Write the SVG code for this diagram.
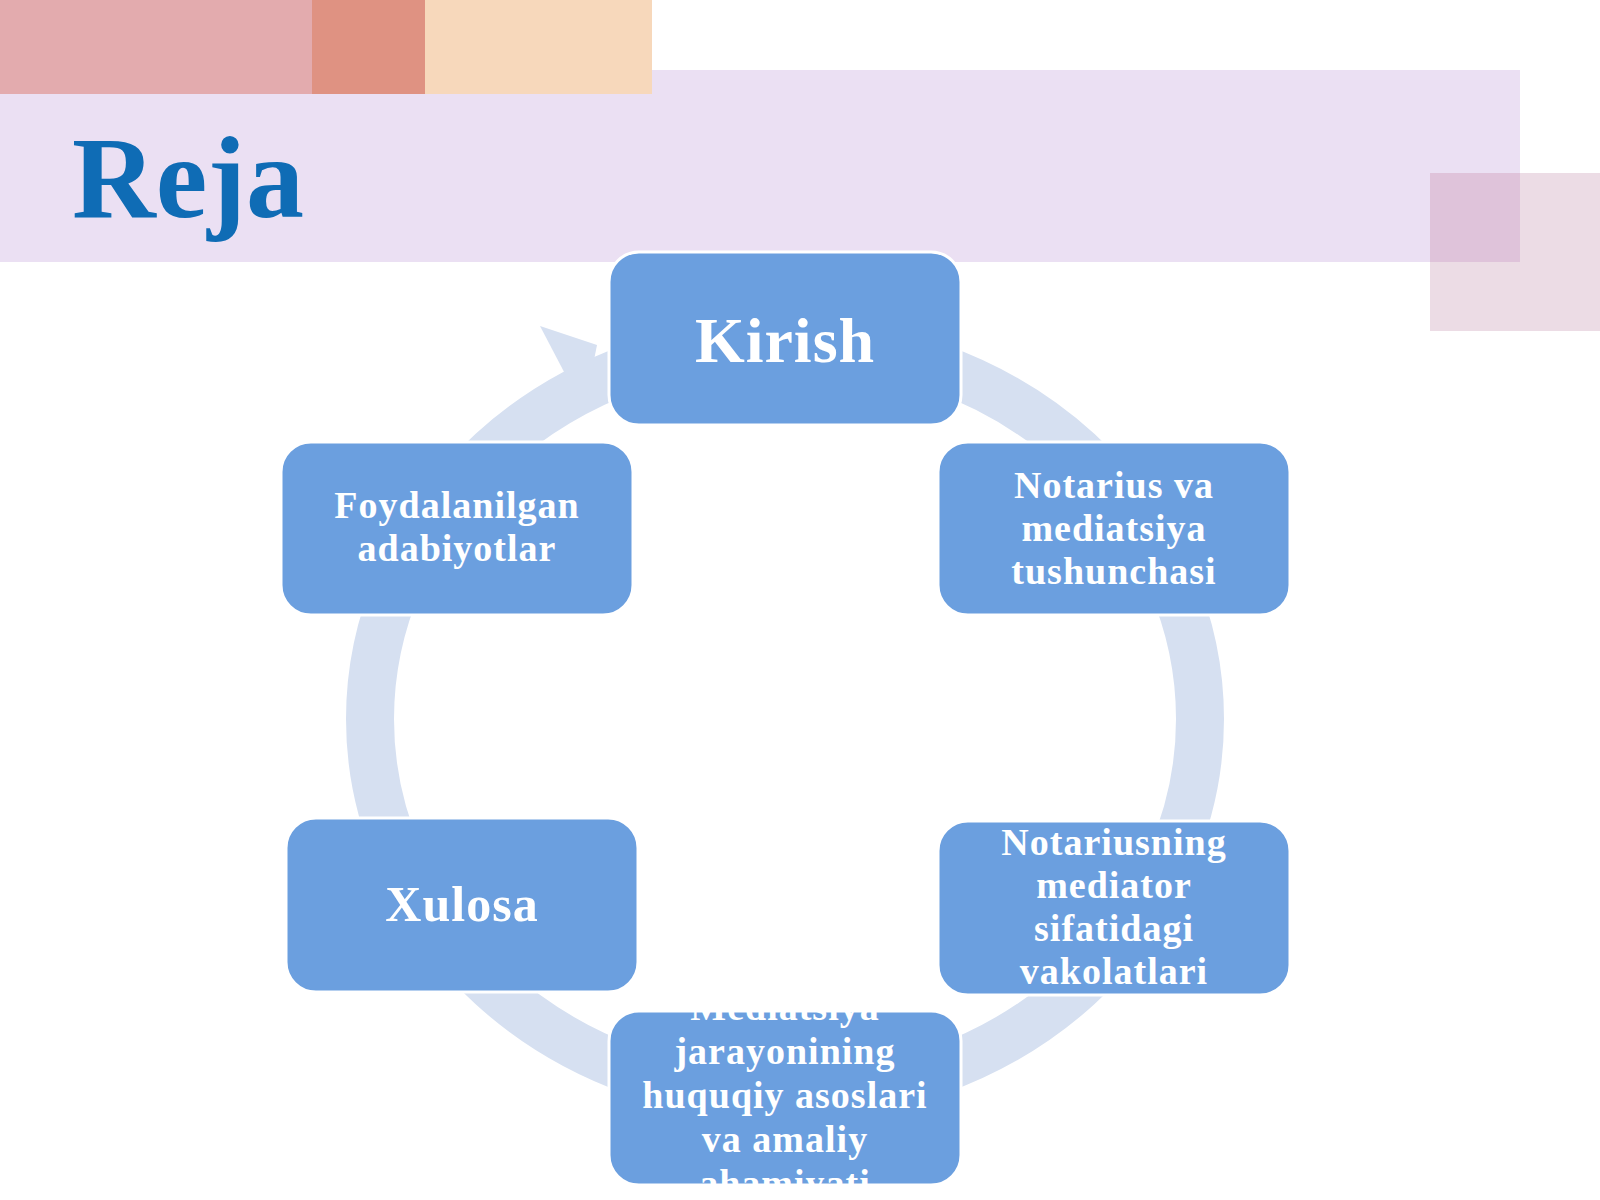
<svg xmlns="http://www.w3.org/2000/svg" width="1600" height="1200" viewBox="0 0 1600 1200">
<defs>
<style>
.box{fill:#6b9fdf;stroke:#fff;stroke-width:3}
.t{font-family:"Liberation Serif",serif;font-weight:bold;fill:#fff;text-anchor:middle;letter-spacing:1px}
.s{font-size:38px}
</style>
<clipPath id="cb"><rect x="609" y="1011" width="352" height="174" rx="30"/></clipPath>
</defs>
<rect width="1600" height="1200" fill="#fff"/>
<rect x="0" y="70" width="1520" height="192" fill="#ebe0f3"/>
<rect x="1430" y="173" width="170" height="158" fill="#ead8e2" opacity="0.9"/>
<rect x="1430" y="173" width="90" height="89" fill="#dfc3da"/>
<rect x="0" y="0" width="312" height="94" fill="#e3abae"/>
<rect x="312" y="0" width="113" height="94" fill="#df9282"/>
<rect x="425" y="0" width="227" height="94" fill="#f7d8bb"/>
<text x="72" y="217" font-family="Liberation Serif,serif" font-weight="bold" font-size="116" fill="#0f6cb5">Reja</text>
<g id="connectors">
<ellipse cx="785" cy="719" rx="415" ry="378" fill="none" stroke="#d6e0f1" stroke-width="48"/>
<polygon points="597,345 540,326 584,410" fill="#d6e0f1"/>
</g>
<g id="n1"><rect class="box" x="609" y="252" width="352" height="173" rx="30"/><text class="t" x="785" y="362" font-size="64">Kirish</text></g>
<g id="n2"><rect class="box" x="938" y="442" width="352" height="173" rx="30"/><text class="t s" x="1114" y="498">Notarius va</text><text class="t s" x="1114" y="541">mediatsiya</text><text class="t s" x="1114" y="584">tushunchasi</text></g>
<g id="n3"><rect class="box" x="938" y="821" width="352" height="174" rx="30"/><text class="t s" x="1114" y="855">Notariusning</text><text class="t s" x="1114" y="898">mediator</text><text class="t s" x="1114" y="941">sifatidagi</text><text class="t s" x="1114" y="984">vakolatlari</text></g>
<g id="n4"><rect class="box" x="609" y="1011" width="352" height="174" rx="30"/><g clip-path="url(#cb)"><text class="t s" x="785" y="1020">Mediatsiya</text><text class="t s" x="785" y="1064">jarayonining</text><text class="t s" x="785" y="1108">huquqiy asoslari</text><text class="t s" x="785" y="1152">va amaliy</text><text class="t s" x="785" y="1196">ahamiyati</text></g></g>
<g id="n5"><rect class="box" x="286" y="818" width="352" height="174" rx="30"/><text class="t" x="462" y="921" font-size="50">Xulosa</text></g>
<g id="n6"><rect class="box" x="281" y="442" width="352" height="173" rx="30"/><text class="t s" x="457" y="518">Foydalanilgan</text><text class="t s" x="457" y="561">adabiyotlar</text></g>
</svg>
